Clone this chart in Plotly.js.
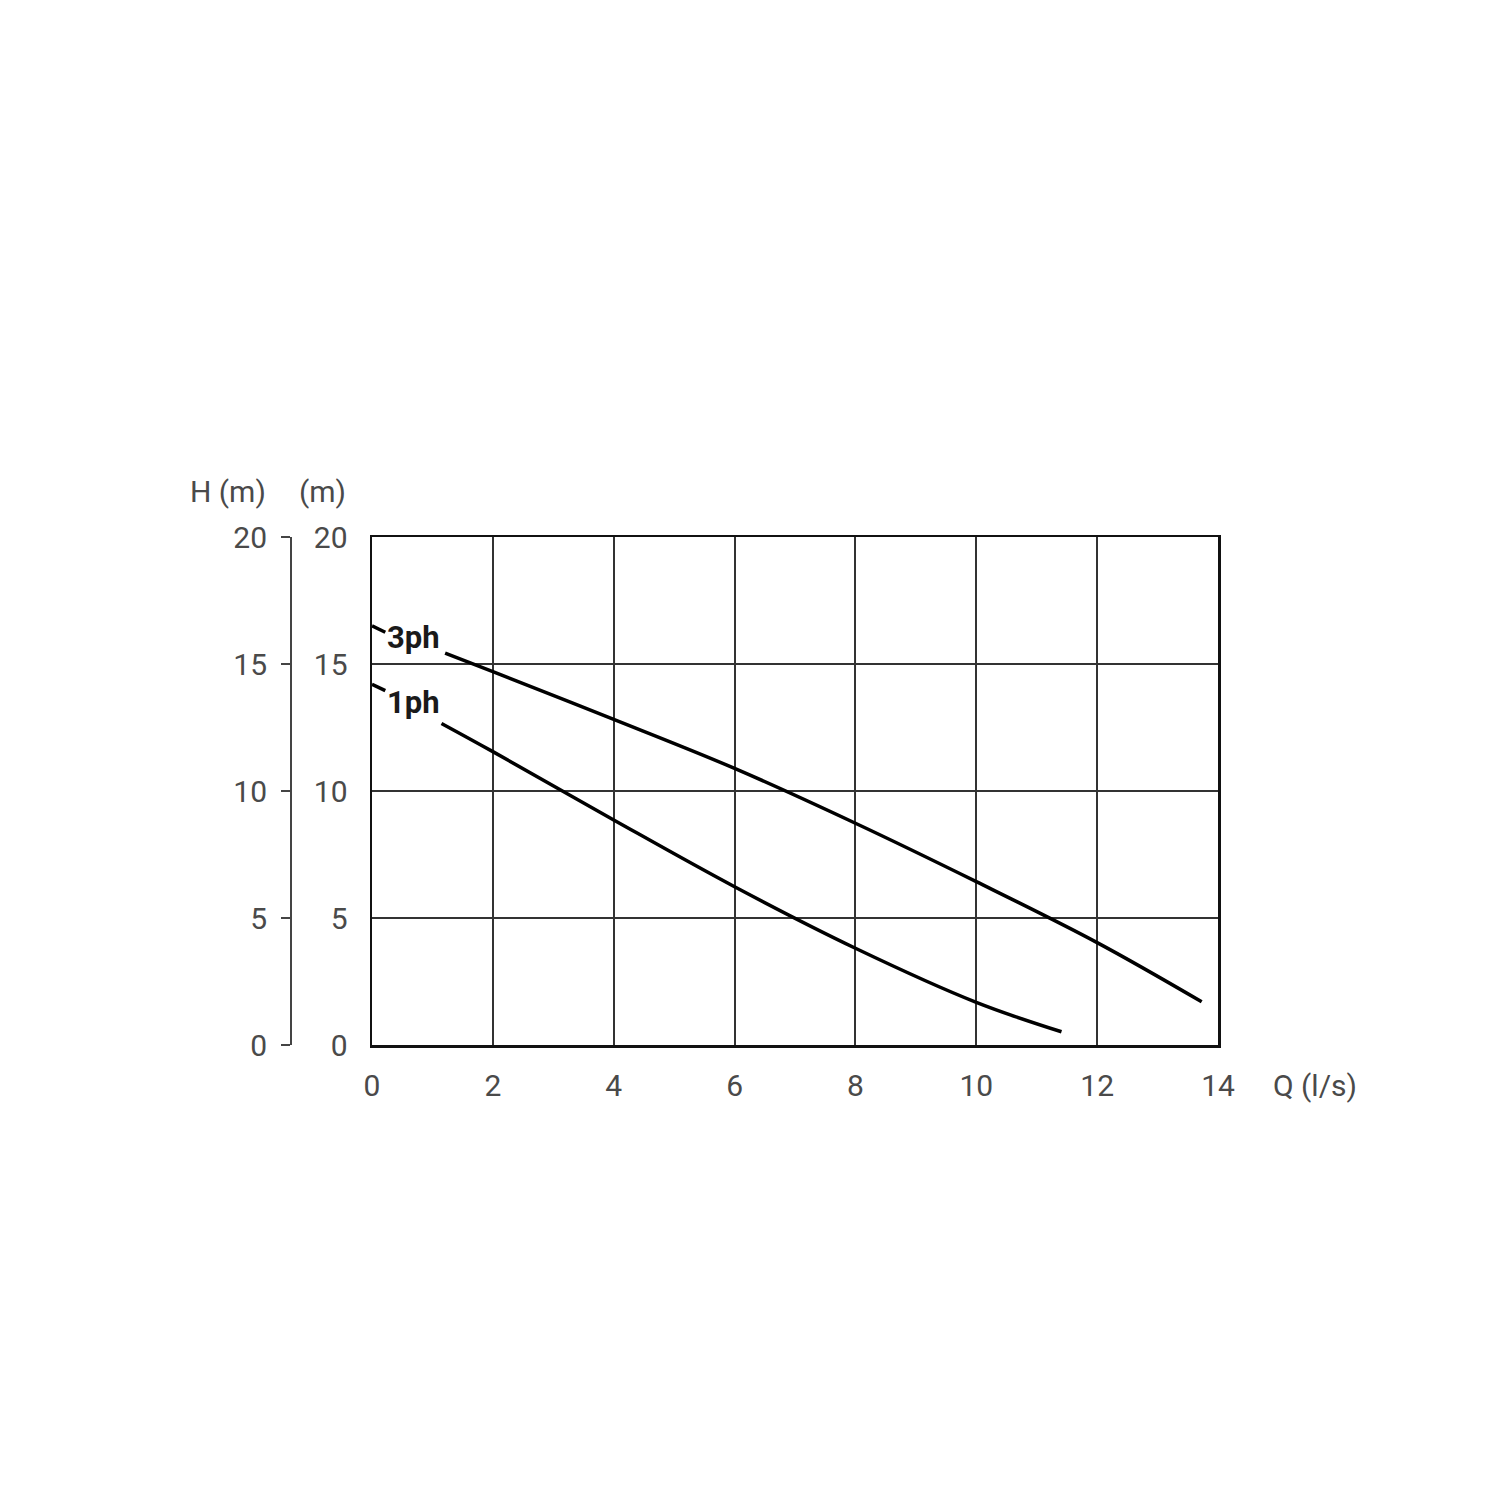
<!DOCTYPE html>
<html>
<head>
<meta charset="utf-8">
<script src="https://cdn.plot.ly/plotly-3.0.1.min.js"></script>
<style>
  body { margin: 0; background: #fff; }
  #myDiv { width: 1500px; height: 1500px; }
</style>
</head>
<body>
<div id="myDiv"></div>
<script>
// pump curves: Q (l/s) vs H (m)
let q3ph = [1.21, 2, 4, 6, 8, 10, 12, 13.73];
let h3ph = [15.43, 14.7, 12.82, 10.89, 8.73, 6.43, 4.03, 1.7];
let q1ph = [1.15, 2, 4, 6, 8, 10, 11.41];
let h1ph = [12.66, 11.55, 8.86, 6.23, 3.81, 1.68, 0.52];

// the little leader strokes next to the labels
let q3lead = [0, 0.22];
let h3lead = [16.5, 16.25];
let q1lead = [0, 0.22];
let h1lead = [14.2, 13.95];

let curveNames = ["3ph", "1ph"];
let labelQ = [0.68, 0.68];
let labelH = [16.05, 13.5];

let hTicks = [0, 5, 10, 15, 20];
let qTicks = [0, 2, 4, 6, 8, 10, 12, 14];

function desenhaGrafico() {
  let fonte = "Liberation Sans Narrow, Roboto, sans-serif";
  let cinza = "#4a4a4a";

  function curva(x, y) {
    return {
      x: x, y: y, type: 'scatter', mode: 'lines',
      line: {color: '#000', width: 3.5, shape: 'spline', smoothing: 1},
      hoverinfo: 'skip', showlegend: false
    };
  }

  let data = [
    curva(q3ph, h3ph),
    curva(q1ph, h1ph),
    curva(q3lead, h3lead),
    curva(q1lead, h1lead),
    // invisible trace so the outer H axis gets drawn
    {x: [0, 0], y: [hTicks[0], hTicks[hTicks.length - 1]], yaxis: 'y2', type: 'scatter',
     mode: 'lines', line: {color: 'rgba(0,0,0,0)'}, hoverinfo: 'skip', showlegend: false}
  ];

  let annotations = [];
  for (let i = 0; i < curveNames.length; i++) {
    annotations.push({
      x: labelQ[i], y: labelH[i], xref: 'x', yref: 'y', text: '<b>' + curveNames[i] + '</b>',
      showarrow: false, font: {family: fonte, size: 31, color: '#1a1a1a'}
    });
  }
  annotations.push(
    {x: 228, y: 491, xref: 'paper', yref: 'paper', text: 'H (m)', showarrow: false,
     font: {family: fonte, size: 30, color: cinza}},
    {x: 322, y: 491, xref: 'paper', yref: 'paper', text: '(m)', showarrow: false,
     font: {family: fonte, size: 30, color: cinza}},
    {x: 1315, y: 1085, xref: 'paper', yref: 'paper', text: 'Q (l/s)', showarrow: false,
     font: {family: fonte, size: 30, color: cinza}}
  );

  // convert the pixel-placed titles to paper coords
  let ml = 200, mr = 282, mt = 537, mb = 455;
  let pw = 1500 - ml - mr, ph = 1500 - mt - mb;
  annotations.forEach(a => {
    if (a.xref === 'paper') {
      a.x = (a.x - ml) / pw;
      a.y = (1500 - mb - a.y) / ph;
      a.xanchor = 'center';
      a.yanchor = 'middle';
    }
  });

  let layout = {
    width: 1500, height: 1500,
    margin: {l: ml, r: mr, t: mt, b: mb},
    paper_bgcolor: '#fff', plot_bgcolor: '#fff',
    font: {family: fonte, size: 30, color: cinza},
    showlegend: false,
    xaxis: {
      domain: [(372 - ml) / pw, 1],
      range: [0, 14], tickvals: qTicks, ticks: '',
      showgrid: true, gridcolor: '#333', gridwidth: 2,
      showline: true, linecolor: '#111', linewidth: 2.5, mirror: true,
      zeroline: false, ticklabelstandoff: 12, fixedrange: true
    },
    yaxis: {
      range: [0, 20], tickvals: hTicks, ticks: '',
      showgrid: true, gridcolor: '#333', gridwidth: 2,
      showline: true, linecolor: '#111', linewidth: 2.5, mirror: true,
      zeroline: false, ticklabelstandoff: 16, fixedrange: true
    },
    yaxis2: {
      range: [0, 20], tickvals: hTicks, overlaying: 'y', anchor: 'free',
      side: 'left', position: (291 - ml) / pw,
      ticks: 'outside', ticklen: 9, tickwidth: 2, tickcolor: '#444',
      showline: true, linecolor: '#444', linewidth: 2,
      showgrid: false, zeroline: false, ticklabelstandoff: 8, fixedrange: true
    },
    annotations: annotations
  };

  Plotly.newPlot('myDiv', data, layout, {staticPlot: true});
}

(function() {
  setTimeout(desenhaGrafico, 0);
})();
</script>
</body>
</html>
